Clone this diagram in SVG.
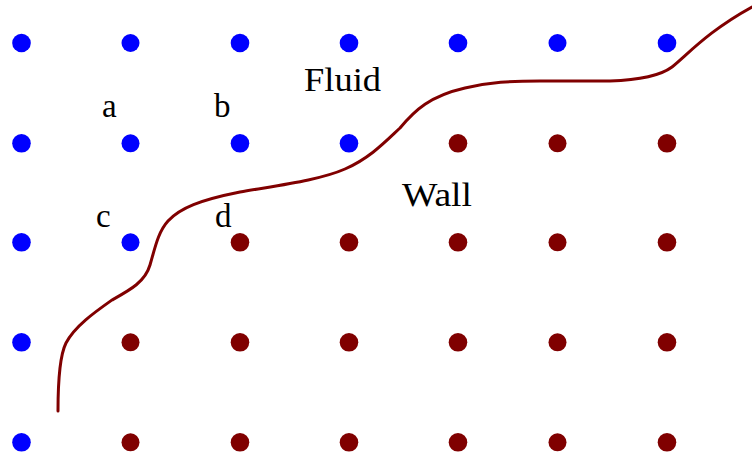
<svg xmlns="http://www.w3.org/2000/svg" width="752" height="459" viewBox="0 0 752 459">
<style>
.f{fill:#0000ff}
.w{fill:#800000}
.t{font-family:"Liberation Serif","Times New Roman",serif;font-size:33px;fill:#000}
.iface{fill:none;stroke:#800000;stroke-width:3;stroke-linecap:round;stroke-linejoin:round}
</style>
<rect width="752" height="459" fill="#fff"/>
<g id="interface">
<path class="iface" d="M58,411 C58,385 60,355 66,343 C75,326 95,312 112,300 C130,290 145,282 150,265 C155,248 158,232 168,221 C180,208 200,200 240,192 C280,185 320,180 345,169 C370,158 385,142 400,128 C415,110 430,96 465,88 C490,82 510,81 540,81 L610,81 C640,80 660,76 672,67 C690,52 710,30 752,7"/>
</g>
<g id="dots">
<g id="r0c0"><circle class="f" cx="21.5" cy="43" r="9.3"/></g>
<g id="r0c1"><circle class="f" cx="130.5" cy="43" r="9"/></g>
<g id="r0c2"><circle class="f" cx="240" cy="43" r="9.3"/></g>
<g id="r0c3"><circle class="f" cx="349" cy="43" r="9.3"/></g>
<g id="r0c4"><circle class="f" cx="458" cy="43" r="9.3"/></g>
<g id="r0c5"><circle class="f" cx="557.5" cy="43" r="9"/></g>
<g id="r0c6"><circle class="f" cx="667" cy="43" r="9.3"/></g>
<g id="r1c0"><circle class="f" cx="21.5" cy="143.3" r="9.3"/></g>
<g id="r1c1"><circle class="f" cx="130.5" cy="143.3" r="9"/></g>
<g id="r1c2"><circle class="f" cx="240" cy="143.3" r="9.3"/></g>
<g id="r1c3"><circle class="f" cx="349" cy="143.3" r="9.3"/></g>
<g id="r1c4"><circle class="w" cx="458" cy="143.3" r="9.3"/></g>
<g id="r1c5"><circle class="w" cx="557.5" cy="143.3" r="9"/></g>
<g id="r1c6"><circle class="w" cx="667" cy="143.3" r="9.3"/></g>
<g id="r2c0"><circle class="f" cx="21.5" cy="242.3" r="9.3"/></g>
<g id="r2c1"><circle class="f" cx="130.5" cy="242.3" r="9"/></g>
<g id="r2c2"><circle class="w" cx="240" cy="242.3" r="9.3"/></g>
<g id="r2c3"><circle class="w" cx="349" cy="242.3" r="9.3"/></g>
<g id="r2c4"><circle class="w" cx="458" cy="242.3" r="9.3"/></g>
<g id="r2c5"><circle class="w" cx="557.5" cy="242.3" r="9"/></g>
<g id="r2c6"><circle class="w" cx="667" cy="242.3" r="9.3"/></g>
<g id="r3c0"><circle class="f" cx="21.5" cy="342.3" r="9.3"/></g>
<g id="r3c1"><circle class="w" cx="130.5" cy="342.3" r="9"/></g>
<g id="r3c2"><circle class="w" cx="240" cy="342.3" r="9.3"/></g>
<g id="r3c3"><circle class="w" cx="349" cy="342.3" r="9.3"/></g>
<g id="r3c4"><circle class="w" cx="458" cy="342.3" r="9.3"/></g>
<g id="r3c5"><circle class="w" cx="557.5" cy="342.3" r="9"/></g>
<g id="r3c6"><circle class="w" cx="667" cy="342.3" r="9.3"/></g>
<g id="r4c0"><circle class="f" cx="21.5" cy="442.3" r="9.3"/></g>
<g id="r4c1"><circle class="w" cx="130.5" cy="442.3" r="9"/></g>
<g id="r4c2"><circle class="w" cx="240" cy="442.3" r="9.3"/></g>
<g id="r4c3"><circle class="w" cx="349" cy="442.3" r="9.3"/></g>
<g id="r4c4"><circle class="w" cx="458" cy="442.3" r="9.3"/></g>
<g id="r4c5"><circle class="w" cx="557.5" cy="442.3" r="9"/></g>
<g id="r4c6"><circle class="w" cx="667" cy="442.3" r="9.3"/></g>
</g>
<g id="labels">
<g id="label-fluid"><text class="t" x="304" y="91" textLength="77" lengthAdjust="spacingAndGlyphs">Fluid</text></g>
<g id="label-wall"><text class="t" x="402" y="206" textLength="70" lengthAdjust="spacingAndGlyphs">Wall</text></g>
<g id="label-a"><text class="t" x="102" y="117">a</text></g>
<g id="label-b"><text class="t" x="214" y="117">b</text></g>
<g id="label-c"><text class="t" x="96" y="227">c</text></g>
<g id="label-d"><text class="t" x="215" y="227">d</text></g>
</g>
</svg>
